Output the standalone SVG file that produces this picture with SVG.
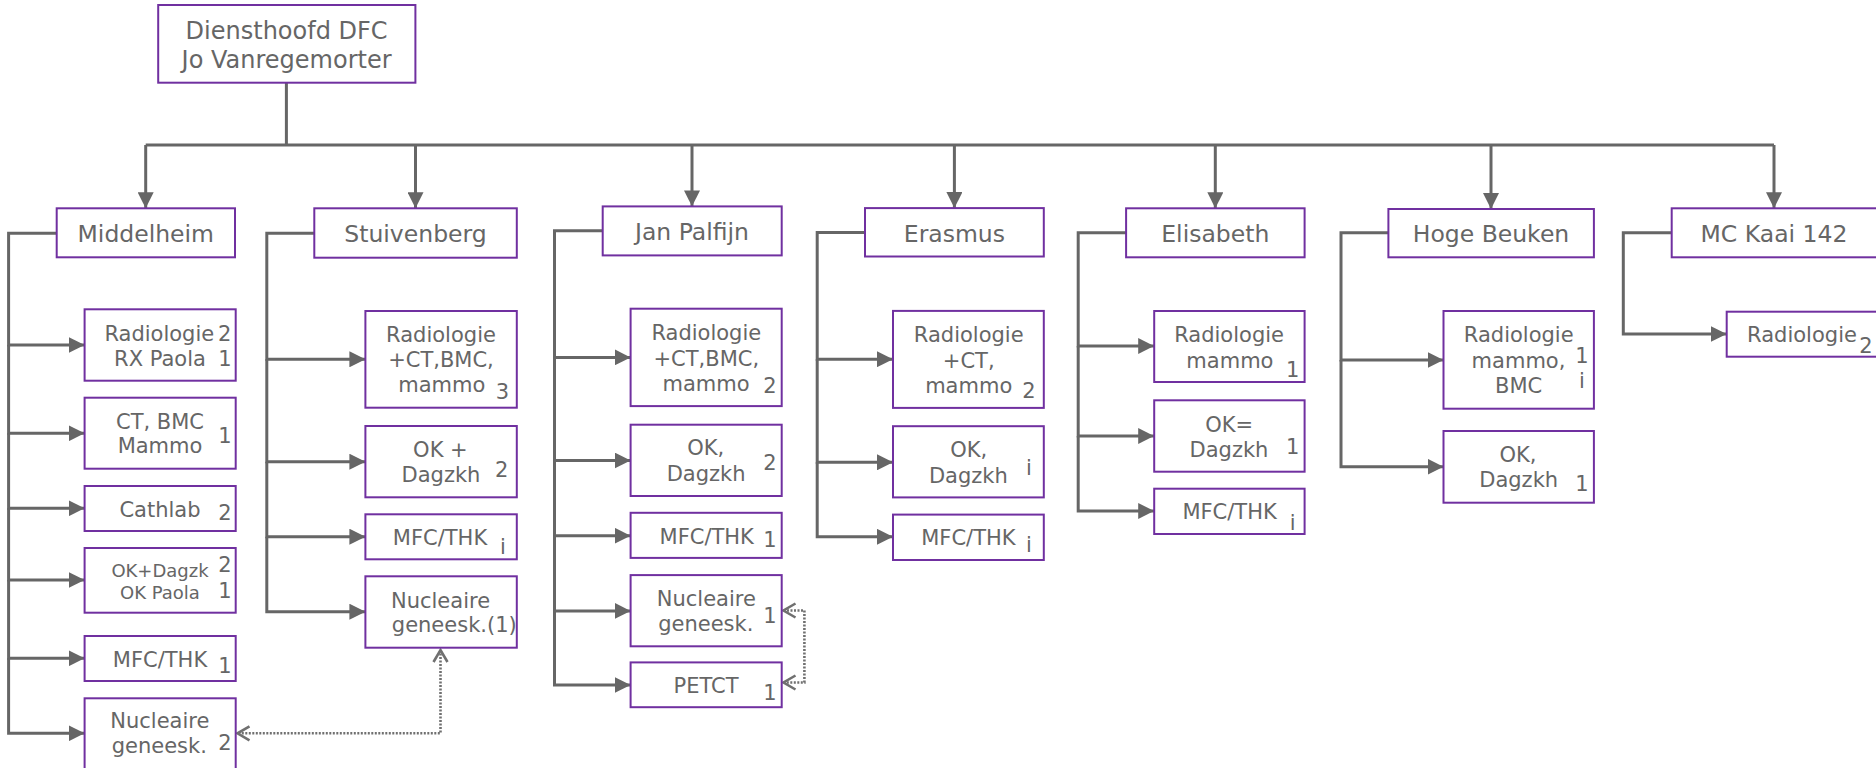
<svg xmlns="http://www.w3.org/2000/svg" width="1876" height="768" viewBox="0 0 1876 768">
<style>
.box{fill:#fff;stroke:#7030A0;stroke-width:2}
.t{font-family:"DejaVu Sans",Verdana,sans-serif;fill:#666;text-anchor:middle}
.top{font-size:24px}
.h{font-size:23.5px}
.s{font-size:21px}
.sm{font-size:18px}
.c{fill:none;stroke:#666;stroke-width:3}
.a{marker-end:url(#arr)}
.d{fill:none;stroke:#707070;stroke-width:2.6;stroke-dasharray:2 1.5;marker-start:url(#chev);marker-end:url(#chev)}
</style>
<defs>
<marker id="arr" markerUnits="userSpaceOnUse" markerWidth="16" markerHeight="16" viewBox="0 0 15 15" refX="15" refY="7.5" orient="auto">
<path d="M0,0 L15,7.5 L0,15 z" fill="#666"/>
</marker>
<marker id="chev" markerUnits="userSpaceOnUse" markerWidth="18" markerHeight="20" viewBox="-3 -3 18 20" refX="12" refY="7" orient="auto-start-reverse" overflow="visible">
<path d="M0,0 L12,7 L0,14" fill="none" stroke="#707070" stroke-width="2.6"/>
</marker>
</defs>

<g id="connectors">
<path class="c" d="M286.4,82.7 V145 M145.7,145 H1774"/>
<path class="c a" d="M145.7,145 V208.3"/>
<path class="c a" d="M415.5,145 V208.3"/>
<path class="c a" d="M692,145 V206.4"/>
<path class="c a" d="M954.4,145 V208.1"/>
<path class="c a" d="M1215.3,145 V208.3"/>
<path class="c a" d="M1491,145 V209"/>
<path class="c a" d="M1774,145 V208.3"/>

<path class="c a" d="M56.7,233.3 H8.6 V345 H84.6"/>
<path class="c a" d="M8.6,345 V433.3 H84.6"/>
<path class="c a" d="M8.6,433.3 V508.3 H84.6"/>
<path class="c a" d="M8.6,508.3 V580 H84.6"/>
<path class="c a" d="M8.6,580 V658.3 H84.6"/>
<path class="c a" d="M8.6,658.3 V733.3 H84.6"/>

<path class="c a" d="M314.3,233.3 H266.8 V359.3 H365.4"/>
<path class="c a" d="M266.8,359.3 V461.7 H365.4"/>
<path class="c a" d="M266.8,461.7 V536.7 H365.4"/>
<path class="c a" d="M266.8,536.7 V611.7 H365.4"/>

<path class="c a" d="M602.7,230.7 H554.5 V357.4 H630.6"/>
<path class="c a" d="M554.5,357.4 V460.5 H630.6"/>
<path class="c a" d="M554.5,460.5 V535.7 H630.6"/>
<path class="c a" d="M554.5,535.7 V610.9 H630.6"/>
<path class="c a" d="M554.5,610.9 V685 H630.6"/>

<path class="c a" d="M865,232.5 H817.2 V359.2 H893"/>
<path class="c a" d="M817.2,359.2 V462.3 H893"/>
<path class="c a" d="M817.2,462.3 V536.8 H893"/>

<path class="c a" d="M1126.1,232.7 H1078.2 V346 H1154.2"/>
<path class="c a" d="M1078.2,346 V436 H1154.2"/>
<path class="c a" d="M1078.2,436 V511 H1154.2"/>

<path class="c a" d="M1388.4,232.7 H1341 V360 H1443.5"/>
<path class="c a" d="M1341,360 V466.7 H1443.5"/>

<path class="c a" d="M1671.7,232.7 H1623.3 V334 H1726.7"/>

<path class="d" d="M440.5,650 V733.3 H237.5"/>
<path class="d" d="M783.5,610.5 H804.4 V682.5 H783.5"/>
</g>

<g id="n-head">
<rect class="box" x="158.2" y="5" width="257.2" height="77.7"/>
<text class="t top" x="286.6" y="39">Diensthoofd DFC</text>
<text class="t top" x="286.6" y="68">Jo Vanregemorter</text>
</g>

<g id="n-middelheim">
<rect class="box" x="56.7" y="208.3" width="178.3" height="49"/>
<text class="t h" x="145.8" y="241.7">Middelheim</text>
</g>
<g id="n-stuivenberg">
<rect class="box" x="314.3" y="208.3" width="202.5" height="49.4"/>
<text class="t h" x="415.5" y="241.7">Stuivenberg</text>
</g>
<g id="n-janpalfijn">
<rect class="box" x="602.7" y="206.4" width="179" height="49"/>
<text class="t h" x="692" y="239.6">Jan Palfijn</text>
</g>
<g id="n-erasmus">
<rect class="box" x="865" y="208.1" width="178.8" height="48.4"/>
<text class="t h" x="954.4" y="242.2">Erasmus</text>
</g>
<g id="n-elisabeth">
<rect class="box" x="1126.1" y="208.3" width="178.5" height="49"/>
<text class="t h" x="1215.3" y="241.7">Elisabeth</text>
</g>
<g id="n-hogebeuken">
<rect class="box" x="1388.4" y="209" width="205.5" height="48.3"/>
<text class="t h" x="1491" y="241.7">Hoge Beuken</text>
</g>
<g id="n-mckaai">
<rect class="box" x="1671.7" y="208.3" width="210" height="49"/>
<text class="t h" x="1774" y="241.7">MC Kaai 142</text>
</g>

<g id="n-mid-radio">
<rect class="box" x="84.6" y="309.3" width="151.1" height="71.4"/>
<text class="t s" x="159.3" y="341">Radiologie</text>
<text class="t s" x="224.8" y="341">2</text>
<text class="t s" x="160" y="366">RX Paola</text>
<text class="t s" x="225" y="366">1</text>
</g>
<g id="n-mid-ct">
<rect class="box" x="84.6" y="397.7" width="151.1" height="71"/>
<text class="t s" x="160" y="429.3">CT, BMC</text>
<text class="t s" x="160" y="453.3">Mammo</text>
<text class="t s" x="225" y="443">1</text>
</g>
<g id="n-mid-cath">
<rect class="box" x="84.6" y="486" width="151.1" height="45"/>
<text class="t s" x="160" y="517.3">Cathlab</text>
<text class="t s" x="225" y="520">2</text>
</g>
<g id="n-mid-ok">
<rect class="box" x="84.6" y="548" width="151.1" height="64.7"/>
<text class="t sm" x="160" y="576.7">OK+Dagzk</text>
<text class="t sm" x="160" y="599.3">OK Paola</text>
<text class="t s" x="225" y="571.7">2</text>
<text class="t s" x="225" y="597.7">1</text>
</g>
<g id="n-mid-mfc">
<rect class="box" x="84.6" y="636" width="151.1" height="45"/>
<text class="t s" x="160" y="666.7">MFC/THK</text>
<text class="t s" x="225" y="673.3">1</text>
</g>
<g id="n-mid-nucl">
<rect class="box" x="84.6" y="698.3" width="151.1" height="75"/>
<text class="t s" x="159.8" y="728.3">Nucleaire</text>
<text class="t s" x="159.3" y="753.3">geneesk.</text>
<text class="t s" x="225" y="750">2</text>
</g>

<g id="n-stu-radio">
<rect class="box" x="365.4" y="311" width="151.4" height="96.7"/>
<text class="t s" x="441" y="341.7">Radiologie</text>
<text class="t s" x="441" y="367.3">+CT,BMC,</text>
<text class="t s" x="441.8" y="391.7">mammo</text>
<text class="t s" x="502.5" y="399.3">3</text>
</g>
<g id="n-stu-ok">
<rect class="box" x="365.4" y="426" width="151.4" height="71.3"/>
<text class="t s" x="440.4" y="456.7">OK +</text>
<text class="t s" x="441" y="481.7">Dagzkh</text>
<text class="t s" x="501.8" y="476.7">2</text>
</g>
<g id="n-stu-mfc">
<rect class="box" x="365.4" y="514.3" width="151.4" height="45"/>
<text class="t s" x="440" y="545">MFC/THK</text>
<text class="t s" x="503" y="554">i</text>
</g>
<g id="n-stu-nucl">
<rect class="box" x="365.4" y="576.3" width="151.4" height="71.4"/>
<text class="t s" x="440.5" y="607.7">Nucleaire</text>
<text class="t s" x="391.8" y="631.7" style="text-anchor:start">geneesk.(1)</text>
</g>

<g id="n-jan-radio">
<rect class="box" x="630.6" y="308.7" width="151.1" height="97.4"/>
<text class="t s" x="706.3" y="339.9">Radiologie</text>
<text class="t s" x="706.3" y="365.7">+CT,BMC,</text>
<text class="t s" x="706.1" y="390.7">mammo</text>
<text class="t s" x="770" y="393.2">2</text>
</g>
<g id="n-jan-ok">
<rect class="box" x="630.6" y="424.7" width="151.1" height="71.3"/>
<text class="t s" x="705.8" y="455.2">OK,</text>
<text class="t s" x="706.1" y="480.9">Dagzkh</text>
<text class="t s" x="770" y="470.2">2</text>
</g>
<g id="n-jan-mfc">
<rect class="box" x="630.6" y="512.8" width="151.1" height="45.1"/>
<text class="t s" x="706.7" y="544">MFC/THK</text>
<text class="t s" x="770" y="546.5">1</text>
</g>
<g id="n-jan-nucl">
<rect class="box" x="630.6" y="575.1" width="151.1" height="71.2"/>
<text class="t s" x="706.3" y="606.2">Nucleaire</text>
<text class="t s" x="705.8" y="631.3">geneesk.</text>
<text class="t s" x="770" y="623.4">1</text>
</g>
<g id="n-jan-petct">
<rect class="box" x="630.6" y="662.4" width="151.1" height="44.8"/>
<text class="t s" x="706.1" y="693.2">PETCT</text>
<text class="t s" x="770" y="700.4">1</text>
</g>

<g id="n-era-radio">
<rect class="box" x="893" y="310.9" width="150.8" height="97"/>
<text class="t s" x="968.7" y="342.4">Radiologie</text>
<text class="t s" x="968.7" y="368.2">+CT,</text>
<text class="t s" x="968.7" y="393.2">mammo</text>
<text class="t s" x="1029" y="397.9">2</text>
</g>
<g id="n-era-ok">
<rect class="box" x="893" y="426.2" width="150.8" height="71.2"/>
<text class="t s" x="968.7" y="457">OK,</text>
<text class="t s" x="968.4" y="483.1">Dagzkh</text>
<text class="t s" x="1029" y="474.9">i</text>
</g>
<g id="n-era-mfc">
<rect class="box" x="893" y="514.6" width="150.8" height="45.4"/>
<text class="t s" x="968.4" y="545.4">MFC/THK</text>
<text class="t s" x="1029" y="551.8">i</text>
</g>

<g id="n-eli-radio">
<rect class="box" x="1154.2" y="311" width="150.4" height="71"/>
<text class="t s" x="1229.1" y="342.3">Radiologie</text>
<text class="t s" x="1229.9" y="368.3">mammo</text>
<text class="t s" x="1292.6" y="377.3">1</text>
</g>
<g id="n-eli-ok">
<rect class="box" x="1154.2" y="400.3" width="150.4" height="71.4"/>
<text class="t s" x="1229.1" y="431.7">OK=</text>
<text class="t s" x="1229" y="456.7">Dagzkh</text>
<text class="t s" x="1292.6" y="454">1</text>
</g>
<g id="n-eli-mfc">
<rect class="box" x="1154.2" y="488.7" width="150.4" height="45.3"/>
<text class="t s" x="1229.6" y="519.3">MFC/THK</text>
<text class="t s" x="1292.6" y="530">i</text>
</g>

<g id="n-hb-radio">
<rect class="box" x="1443.5" y="311" width="150.4" height="97.7"/>
<text class="t s" x="1518.7" y="342.3">Radiologie</text>
<text class="t s" x="1518.5" y="368.3">mammo,</text>
<text class="t s" x="1518.7" y="393.3">BMC</text>
<text class="t s" x="1582" y="363.3">1</text>
<text class="t s" x="1582" y="388.3">i</text>
</g>
<g id="n-hb-ok">
<rect class="box" x="1443.5" y="431" width="150.4" height="71.7"/>
<text class="t s" x="1518" y="461.7">OK,</text>
<text class="t s" x="1518.7" y="486.7">Dagzkh</text>
<text class="t s" x="1582" y="490.7">1</text>
</g>

<g id="n-mc-radio">
<rect class="box" x="1726.7" y="311.7" width="152" height="45"/>
<text class="t s" x="1802" y="342.3">Radiologie</text>
<text class="t s" x="1866" y="352.7">2</text>
</g>
</svg>
